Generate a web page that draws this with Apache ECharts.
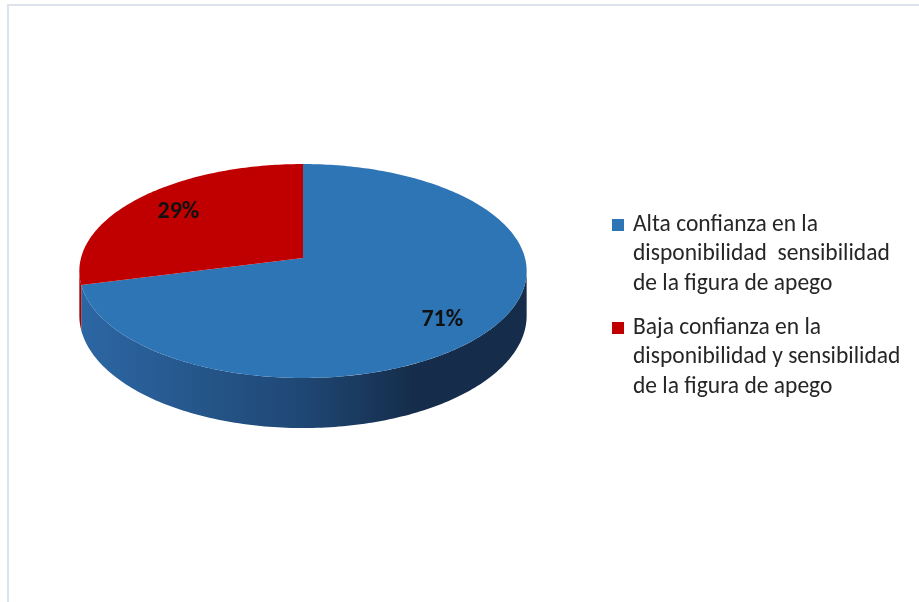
<!DOCTYPE html>
<html>
<head>
<meta charset="utf-8">
<script src="https://cdn.jsdelivr.net/npm/echarts@6/dist/echarts.min.js"></script>
<style>html,body{margin:0;padding:0;background:#fff;}#c{width:919px;height:602px;}</style>
</head>
<body>
<div id="c"></div>
<script>
// ---- data ----
const categories = [
  'Alta confianza en la\ndisponibilidad  sensibilidad\nde la figura de apego',
  'Baja confianza en la\ndisponibilidad y sensibilidad\nde la figura de apego'
];
const values = [71, 29];
const sliceColors = ['#2e75b6', '#c00000'];
const sideColors = [['#2c67a4', '#1f4774', '#152d4a'], ['#a30000', '#8a0000', '#6e0000']];

// ---- geometry (styling) ----
const CX = 303, CY = 258, RX = 222, RY = 105.4, K = 0.1215, DEPTH = 44;
const LABEL_R = 0.75, LABEL_DY = 18;
const FONT = 'Carlito, Lato, "Liberation Sans", sans-serif';

const total = values.reduce((a, b) => a + b, 0);
const starts = [];
values.reduce((acc, v) => { starts.push(acc); return acc + v; }, 0);

function proj(r, phiDeg, down) {
  const p = phiDeg * Math.PI / 180;
  const u = r * Math.sin(p), v = -r * Math.cos(p);
  const w = 1 / (1 - K * v);
  return [CX + RX * u * w, CY + RY * v * w + (down ? DEPTH * w : 0)];
}
function arc(a, b, down) {
  const pts = [];
  const n = Math.max(2, Math.ceil(Math.abs(b - a)));
  for (let i = 0; i <= n; i++) pts.push(proj(1, a + (b - a) * i / n, down));
  return pts;
}
const FRONT_A = Math.acos(-K) * 180 / Math.PI; // ~97
const FRONT_B = 360 - FRONT_A;                 // ~263

function renderItem(params, api) {
  const idx = params.dataIndex;
  const val = api.value(0), st = api.value(1);
  const a = st / total * 360, b = (st + val) / total * 360;
  const children = [];
  // side (front visible part)
  const sa = Math.max(a, FRONT_A), sb = Math.min(b, FRONT_B);
  if (sb > sa) {
    const top = arc(sa, sb, false);
    const bot = arc(sb, sa, true);
    const sc = sideColors[idx];
    children.push({
      type: 'polygon', shape: { points: top.concat(bot) },
      style: { fill: new echarts.graphic.LinearGradient(CX - RX, 0, CX + RX, 0, [
        { offset: 0, color: sc[0] }, { offset: 0.5, color: sc[1] }, { offset: 0.75, color: sc[2] }, { offset: 1, color: sc[2] }
      ], true) },
      z2: 1
    });
  }
  // top face
  const pts = [[CX, CY]].concat(arc(a, b, false));
  children.push({ type: 'polygon', shape: { points: pts }, style: { fill: sliceColors[idx] }, z2: 5 });
  // label
  const mid = (a + b) / 2;
  const lp = proj(LABEL_R, mid, false);
  const front = Math.max(0, -Math.cos(mid * Math.PI / 180));
  children.push({
    type: 'text', x: lp[0], y: lp[1] + LABEL_DY * front, z2: 10,
    style: { text: Math.round(val / total * 100) + '%', fill: '#111', font: 'bold 24px ' + FONT, align: 'center', verticalAlign: 'middle' }
  });
  return { type: 'group', children };
}

// legend graphics
const legendGraphics = [];
const LEG_X = 612, LEG_Y0 = 225, LINE_H = 29.5, ITEM_GAP = 103;
categories.forEach((c, i) => {
  const y0 = LEG_Y0 + i * ITEM_GAP;
  legendGraphics.push({ type: 'rect', shape: { x: LEG_X, y: y0 - 6, width: 12, height: 12 }, style: { fill: sliceColors[i] } });
  c.split('\n').forEach((line, j) => {
    legendGraphics.push({ type: 'text', x: LEG_X + 21, y: y0 + j * LINE_H,
      style: { text: line, fill: '#262626', font: '23.5px ' + FONT, verticalAlign: 'middle', align: 'left' } });
  });
});
// frame
legendGraphics.push({ type: 'polyline', shape: { points: [[8, 602], [8, 5], [919, 5]] }, style: { stroke: '#dde3eb', lineWidth: 2, fill: null } });

const chart = echarts.init(document.getElementById('c'), null, { renderer: 'canvas' });
chart.setOption({
  animation: false,
  backgroundColor: '#fff',
  graphic: legendGraphics,
  series: [{
    type: 'custom',
    coordinateSystem: 'none',
    renderItem,
    data: values.map((v, i) => ({ name: categories[i], value: [v, starts[i]] }))
  }]
});
</script>
</body>
</html>
